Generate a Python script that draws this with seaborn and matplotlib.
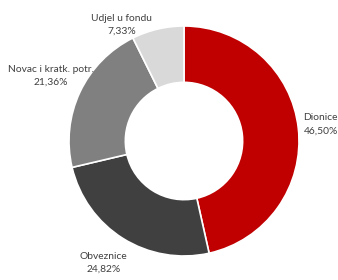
import matplotlib
matplotlib.use("Agg")
import matplotlib.pyplot as plt
import seaborn as sns

categories = ["Dionice", "Obveznice", "Novac i kratk. potr.", "Udjel u fondu"]
values = [46.50, 24.82, 21.36, 7.33]
value_labels = ["46,50%", "24,82%", "21,36%", "7,33%"]
colors = ["#C00000", "#404040", "#808080", "#D9D9D9"]

sns.set_theme(style="white")
plt.rcParams['font.family'] = ['Lato', 'DejaVu Sans']

fig = plt.figure(figsize=(3.38, 2.80), dpi=100)
ax = fig.add_axes([69/338, 24/280, 230/338, 230/280])

wedges, _ = ax.pie(values, colors=colors, startangle=90, counterclock=False,
                   radius=1.0, wedgeprops=dict(width=0.49, edgecolor="white", linewidth=1.2))
ax.set_xlim(-1, 1)
ax.set_ylim(-1, 1)
ax.set_aspect("equal")
ax.axis("off")

# label positions in data units (axes radius = 1 -> 115 px)
label_pos = [(1.19, 0.145), (-0.70, -1.06), (-1.157, 0.565), (-0.54, 1.01)]
for cat, lab, (x, y) in zip(categories, value_labels, label_pos):
    ax.text(x, y, f"{cat}\n{lab}", ha="center", va="center", fontsize=7.4,
            color="#404040", linespacing=1.6, clip_on=False)

fig.savefig("out.png", dpi=100)
